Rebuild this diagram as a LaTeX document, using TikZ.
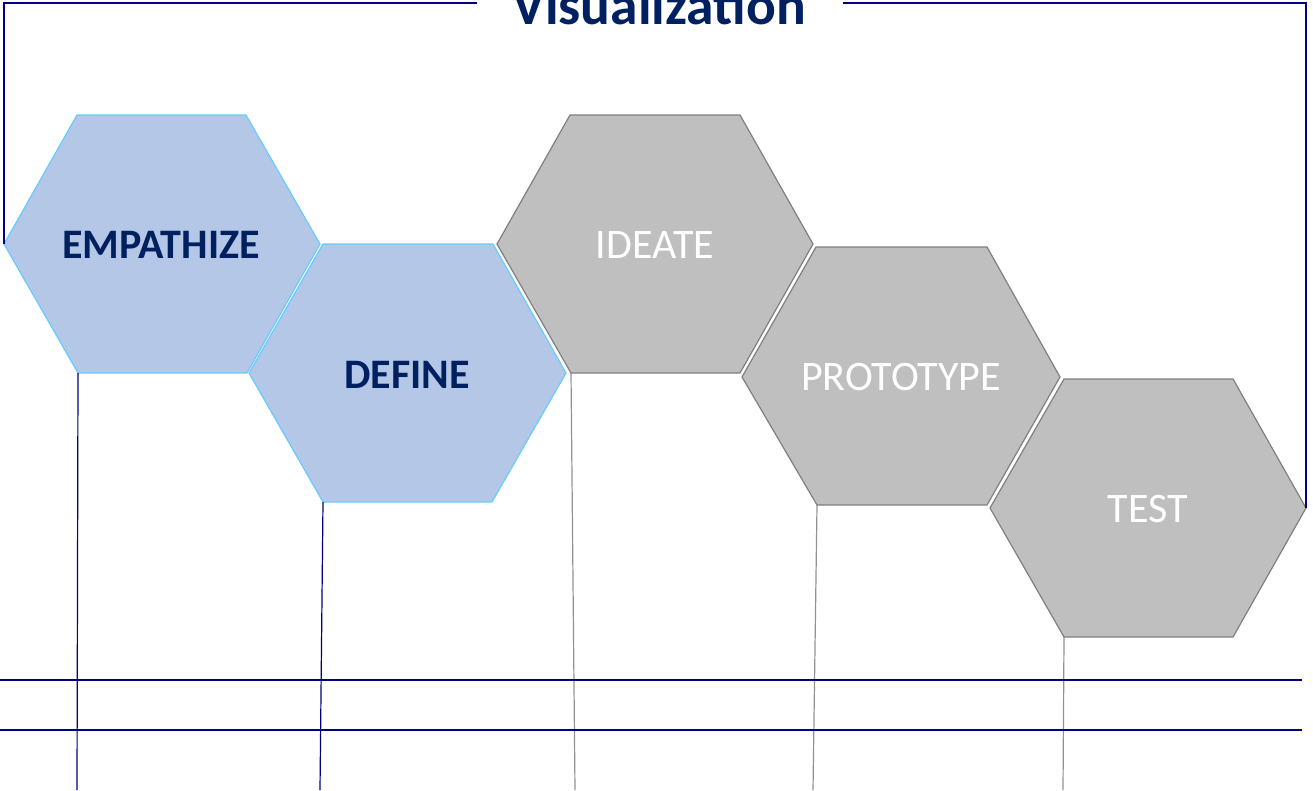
\documentclass[tikz,border=0pt]{standalone}
\usepackage{fontspec}
\setmainfont{Carlito}
\definecolor{navytext}{HTML}{002060}
\definecolor{navyline}{HTML}{000080}
\definecolor{bluefill}{HTML}{B4C7E7}
\definecolor{blueedge}{HTML}{66CCFF}
\definecolor{grayfill}{HTML}{BFBFBF}
\definecolor{grayedge}{HTML}{808080}
\definecolor{grayline}{HTML}{929292}
\begin{document}
\begin{tikzpicture}[x=1pt,y=-1pt,
  bluehex/.style={fill=bluefill,draw=blueedge,line width=1.2pt,line join=miter},
  grayhex/.style={fill=grayfill,draw=grayedge,line width=1.2pt,line join=miter},
  bluelabel/.style={anchor=base,font=\fontsize{42}{42}\selectfont\bfseries,text=navytext,inner sep=0pt},
  graylabel/.style={anchor=base,font=\fontsize{42}{42}\selectfont,text=white,inner sep=0pt},
  navyrule/.style={draw=navyline,line width=1.2pt},
  grayrule/.style={draw=grayline,line width=1.2pt}]
\useasboundingbox (0,0) rectangle (1313,790);
% hexagons
\draw[bluehex] (77,115) -- (246,115) -- (320,244) -- (247,373) coordinate (e-b) -- (78,373) coordinate (e-bl) -- (4,244) coordinate (e-l) -- cycle;
\draw[bluehex] (323,244) -- (493,244) -- (566,373) -- (492,502) -- (323,502) coordinate (d-bl) -- (249,373) -- cycle;
\draw[grayhex] (570,115) -- (740,115) -- (813,244) -- (740,373) -- (571,373) coordinate (i-bl) -- (497,244) -- cycle;
\draw[grayhex] (816,247) -- (987,247) -- (1060,377) -- (987,505) -- (817,505) coordinate (p-bl) -- (742,377) -- cycle;
\draw[grayhex] (1064,379) -- (1233,379) -- (1306,508) coordinate (t-r) -- (1233,637) -- (1064,637) coordinate (t-bl) -- (990,508) -- cycle;
% labels
\node[bluelabel] (empathize) at (161,258) {EMPATHIZE};
\node[bluelabel] (define) at (407,388) {DEFINE};
\node[graylabel] (ideate) at (655,258) {IDEATE};
\node[graylabel] (prototype) at (901,390) {PROTOTYPE};
\node[graylabel] (test) at (1148,522) {TEST};
% title
\node[anchor=base,inner sep=0pt,font=\fontsize{55.5}{55.5}\selectfont\bfseries,text=navytext] (title) at (659,24) {Visualization};
% bracket
\coordinate (tl) at (4,3);
\coordinate (tr) at (1306,3);
\coordinate (gapl) at (477,3);
\coordinate (gapr) at (843,3);
\draw[navyrule] (e-l) -- (tl) -- (gapl);
\draw[navyrule] (gapr) -- (tr) -- (t-r);
% vertical lines
\coordinate (e-end) at (77,790);
\coordinate (d-end) at (320,790);
\coordinate (i-end) at (575,790);
\coordinate (p-end) at (813,790);
\coordinate (t-end) at (1063,790);
\draw[navyrule] (e-bl) -- (e-end);
\draw[navyrule] (d-bl) -- (d-end);
\draw[grayrule] (i-bl) -- (i-end);
\draw[grayrule] (p-bl) -- (p-end);
\draw[grayrule] (t-bl) -- (t-end);
% horizontal lines
\coordinate (h1l) at (0,680);
\coordinate (h1r) at (1302,680);
\coordinate (h2l) at (0,730);
\coordinate (h2r) at (1302,730);
\draw[navyrule] (h1l) -- (h1r);
\draw[navyrule] (h2l) -- (h2r);
\end{tikzpicture}
\end{document}
